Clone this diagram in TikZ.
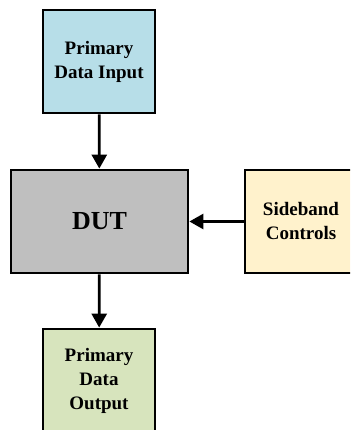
\documentclass[tikz,border=0pt]{standalone}
\usepackage{fontspec}
\setmainfont{Liberation Serif}
\usetikzlibrary{arrows.meta}
\definecolor{inblue}{HTML}{B7DEE8}
\definecolor{dutgray}{HTML}{BFBFBF}
\definecolor{sideyellow}{HTML}{FFF2CC}
\definecolor{outgreen}{HTML}{D7E4BD}
\tikzset{
  block/.style={draw=black, line width=2.8pt, align=center,
    font=\bfseries\fontsize{19}{24}\selectfont, inner sep=0pt},
  smallblock/.style={block, minimum width=112pt, minimum height=103pt},
  flow/.style={line width=2.8pt, -{Triangle[width=15pt,length=14pt]}}
}
\begin{document}
\begin{tikzpicture}[x=1pt, y=-1pt]
  \useasboundingbox (0,0) rectangle (350,430);
  \clip (0,0) rectangle (350,430);
  \node[smallblock, fill=inblue] (din) at (99,61.5) {Primary\\Data Input};
  \node[block, fill=dutgray, minimum width=177pt, minimum height=103pt,
        font=\bfseries\fontsize{26}{30}\selectfont] (dut) at (99.5,221.5) {DUT};
  \node[smallblock, fill=sideyellow] (side) at (301,221.5) {Sideband\\Controls};
  \node[smallblock, fill=outgreen] (dout) at (99,380.5) {Primary\\Data\\Output};
  \draw[flow] (din) -- (dut);
  \draw[flow] (side) -- (dut);
  \draw[flow] (dut) -- (dout);
\end{tikzpicture}
\end{document}
